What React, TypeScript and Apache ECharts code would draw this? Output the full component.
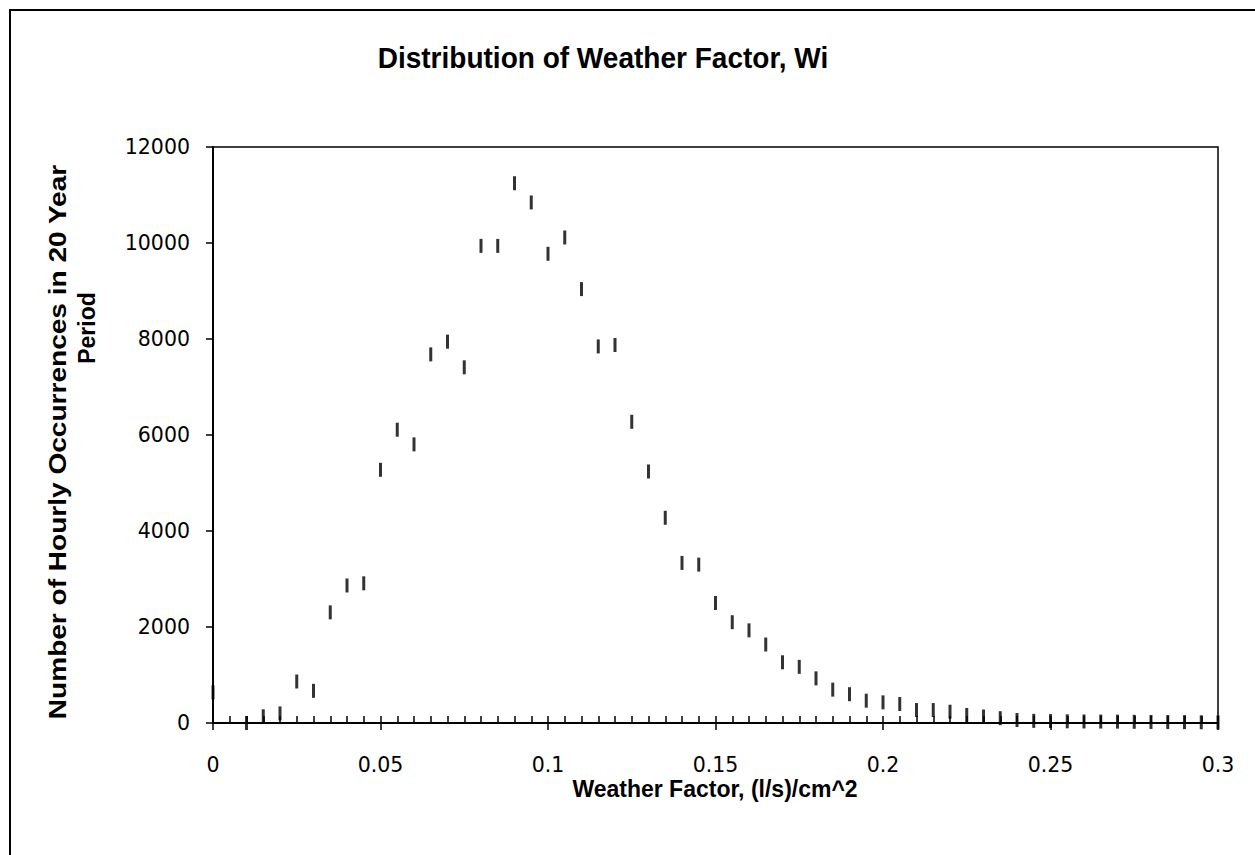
import React, { useEffect, useRef } from "react";
import * as echarts from "echarts";

const weatherFactor = [
  0, 0.01, 0.015, 0.02, 0.025, 0.03, 0.035, 0.04, 0.045, 0.05,
  0.055, 0.06, 0.065, 0.07, 0.075, 0.08, 0.085, 0.09, 0.095, 0.1,
  0.105, 0.11, 0.115, 0.12, 0.125, 0.13, 0.135, 0.14, 0.145, 0.15,
  0.155, 0.16, 0.165, 0.17, 0.175, 0.18, 0.185, 0.19, 0.195, 0.2,
  0.205, 0.21, 0.215, 0.22, 0.225, 0.23, 0.235, 0.24, 0.245, 0.25,
  0.255, 0.26, 0.265, 0.27, 0.275, 0.28, 0.285, 0.29, 0.295, 0.3,
];
const occurrences = [
  640, 0, 140, 200, 865, 670, 2305, 2865, 2910, 5275,
  6110, 5805, 7680, 7945, 7410, 9940, 9940, 11245, 10845, 9775,
  10115, 9040, 7845, 7875, 6275, 5240, 4275, 3335, 3300, 2500,
  2100, 1930, 1635, 1265, 1170, 930, 695, 600, 465, 430,
  395, 270, 270, 235, 167, 135, 100, 63, 45, 40,
  35, 32, 30, 28, 25, 22, 20, 18, 15, 12,
];

const chartTitle = "Distribution of Weather Factor, Wi";
const xAxisTitle = "Weather Factor, (l/s)/cm^2";
const yAxisTitleLine1 = "Number of Hourly Occurrences in 20 Year";
const yAxisTitleLine2 = "Period";

export default function App() {
  const ref = useRef<HTMLDivElement>(null);
  useEffect(() => {
    document.body.style.margin = "0";
    if (!ref.current) return;
    const chart = echarts.init(ref.current, undefined, { renderer: "svg" });
    const labelFont = {
      fontFamily: "DejaVu Sans",
      fontSize: 20.5,
      color: "#000",
    };
    const boldFont = "Liberation Sans, Arial, sans-serif";
    chart.setOption({
      animation: false,
      backgroundColor: "#fff",
      grid: {
        left: 213,
        top: 147,
        right: 37,
        bottom: 132,
        show: true,
        borderColor: "#000",
        borderWidth: 1.5,
        backgroundColor: "transparent",
      },
      xAxis: [
        {
          type: "value",
          position: "bottom",
          min: 0,
          max: 0.3,
          interval: 0.05,
          axisLine: { show: true, lineStyle: { color: "#000", width: 2 } },
          axisTick: { show: true, inside: true, length: 7, lineStyle: { color: "#000", width: 1.5 } },
          minorTick: { show: true, splitNumber: 10, length: 7, lineStyle: { color: "#000", width: 1.5 } },
          splitLine: { show: false },
          minorSplitLine: { show: false },
          axisLabel: { ...labelFont, margin: 31, formatter: (v: number) => String(Math.round(v * 1000) / 1000) },
        },
        {
          type: "value",
          position: "bottom",
          min: 0,
          max: 0.3,
          interval: 0.05,
          axisLine: { show: false },
          axisTick: { show: true, inside: false, length: 7, lineStyle: { color: "#000", width: 1.5 } },
          splitLine: { show: false },
          axisLabel: { show: false },
        },
      ],
      yAxis: {
        type: "value",
        min: 0,
        max: 12000,
        interval: 2000,
        axisLine: { show: true, lineStyle: { color: "#000", width: 2 } },
        axisTick: { show: true, inside: false, length: 7, lineStyle: { color: "#000", width: 1.5 } },
        splitLine: { show: false },
        axisLabel: { ...labelFont, margin: 23, formatter: (v: number) => String(v) },
      },
      series: [
        {
          type: "scatter",
          xAxisIndex: 0,
          data: weatherFactor.map((x, i) => [x, occurrences[i]]),
          symbol: "rect",
          symbolSize: [3, 14],
          itemStyle: { color: "#000" },
          clip: false,
        },
      ],
      graphic: [
        {
          type: "rect",
          shape: { x: 10, y: 10, width: 1260, height: 870 },
          style: { fill: "none", stroke: "#000", lineWidth: 2 },
          silent: true,
          z: -10,
        },
        {
          type: "text",
          x: 603,
          y: 58,
          scaleX: 0.95,
          style: {
            text: chartTitle,
            font: `bold 29.5px ${boldFont}`,
            fill: "#000",
            align: "center",
            verticalAlign: "middle",
          },
        },
        {
          type: "text",
          x: 715,
          y: 789,
          style: {
            text: xAxisTitle,
            font: `bold 23px ${boldFont}`,
            fill: "#000",
            align: "center",
            verticalAlign: "middle",
          },
        },
        {
          type: "text",
          x: 58,
          y: 442,
          rotation: Math.PI / 2,
          scaleX: 1.22,
          style: {
            text: yAxisTitleLine1,
            font: `bold 23px ${boldFont}`,
            fill: "#000",
            align: "center",
            verticalAlign: "middle",
          },
        },
        {
          type: "text",
          x: 87,
          y: 328,
          rotation: Math.PI / 2,
          style: {
            text: yAxisTitleLine2,
            font: `bold 23px ${boldFont}`,
            fill: "#000",
            align: "center",
            verticalAlign: "middle",
          },
        },
      ],
    });
    return () => chart.dispose();
  }, []);
  return <div ref={ref} style={{ width: 1255, height: 855 }} />;
}
